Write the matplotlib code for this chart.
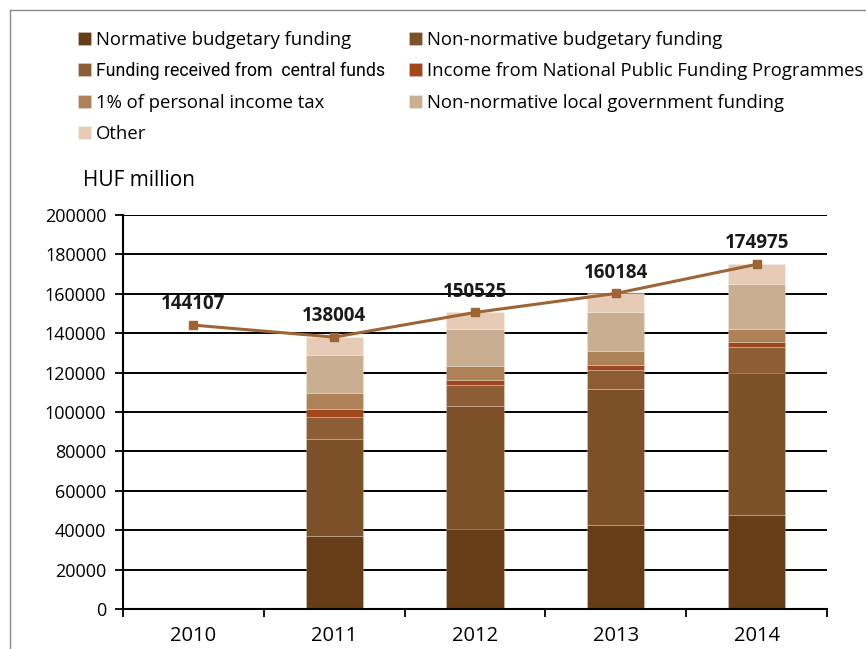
import numpy as np
import matplotlib
matplotlib.use("Agg")
import matplotlib.pyplot as plt
from matplotlib.lines import Line2D

plt.rcParams['font.family'] = ['Open Sans', 'DejaVu Sans']

years = ['2010', '2011', '2012', '2013', '2014']
bar_years = ['2011', '2012', '2013', '2014']

normative = [37000, 40400, 42600, 47600]
non_normative = [49100, 62500, 68900, 72200]
central_funds = [11200, 10600, 9800, 13000]
nat_public = [4100, 2900, 2700, 2600]
one_percent = [8400, 7100, 7100, 6900]
local_gov = [19100, 18800, 19700, 22700]
other = [9100, 8225, 9384, 9975]

totals = [144107, 138004, 150525, 160184, 174975]

series_names = [
    'Normative budgetary funding',
    'Non-normative budgetary funding',
    'Funding received from  central funds',
    'Income from National Public Funding Programmes',
    '1% of personal income tax',
    'Non-normative local government funding',
    'Other',
]
series_values = [normative, non_normative, central_funds, nat_public,
                 one_percent, local_gov, other]
colors = ['#673d18', '#7c5129', '#8d5d36', '#a2461c', '#ad8259', '#c9ae91', '#e7cbb6']

fig = plt.figure(figsize=(8.66, 6.49), dpi=100)
ax = fig.add_axes([123/866, 40/649, (827-123)/866, (609-215)/649])

xb = np.array([years.index(y) for y in bar_years])
bottom = np.zeros(len(bar_years))
handles = []
for name, vals, c in zip(series_names, series_values, colors):
    vals = np.array(vals, dtype=float)
    b = ax.bar(xb, vals, 0.405, bottom=bottom, color=c, edgecolor=(1, 1, 1, 0.25),
               linewidth=0.6, label=name, zorder=3)
    handles.append(b)
    bottom += vals

xl = np.arange(len(years))
ax.plot(xl, totals, color='#9d6536', lw=2.2, marker='s', markersize=6, zorder=5)
for x, t in zip(xl, totals):
    ax.annotate(f'{t}', (x, t), xytext=(0, 15), textcoords='offset points',
                ha='center', va='center', fontsize=13.5, fontweight='bold',
                color='#1a1a1a', zorder=6)

ax.set_xlim(-0.5, 4.5)
ax.set_ylim(0, 200000)
ax.set_yticks(np.arange(0, 200001, 20000))
ax.set_yticklabels([str(v) for v in range(0, 200001, 20000)], fontsize=13)
ax.set_xticks(xl)
ax.set_xticklabels(years, fontsize=14.5)
ax.set_xticks(np.arange(-0.5, 4.6, 1), minor=True)
ax.tick_params(axis='x', which='major', length=0, pad=12)
ax.tick_params(axis='x', which='minor', length=6, width=1.3, direction='out')
ax.tick_params(axis='y', length=6, width=1.3, direction='out', pad=6)
ax.yaxis.grid(True, color='black', lw=1.4, zorder=1)
ax.set_axisbelow(True)
for s in ['top', 'right']:
    ax.spines[s].set_visible(False)
for s in ['left', 'bottom']:
    ax.spines[s].set_linewidth(1.5)
    ax.spines[s].set_zorder(4)

fig.text(83/866, 1 - 181/649, 'HUF million', fontsize=15, va='center', ha='left')

col1 = [handles[0], handles[2], handles[4], handles[6]]
col2 = [handles[1], handles[3], handles[5]]
common = dict(frameon=False, fontsize=13.3, handlelength=0.7, handleheight=0.7,
              handletextpad=0.25, labelspacing=0.72, borderpad=0, borderaxespad=0,
              loc='upper left')
leg1 = fig.legend(col1, [h.get_label() for h in col1], bbox_to_anchor=(78/866, 1 - 31/649), **common)
fig.legend(col2, [h.get_label() for h in col2], bbox_to_anchor=(409/866, 1 - 31/649), **common)
# the original uses a condensed face for this entry
leg1.get_texts()[1].set_fontfamily(['Roboto', 'DejaVu Sans'])
leg1.get_texts()[1].set_fontsize(12.8)

# outer frame
fig.add_artist(Line2D([10/866, 10/866], [0, 1 - 10/649], transform=fig.transFigure,
                      color='#8a8a8a', lw=1))
fig.add_artist(Line2D([10/866, 1], [1 - 10/649, 1 - 10/649], transform=fig.transFigure,
                      color='#8a8a8a', lw=1))

fig.savefig('out.png', dpi=100)
